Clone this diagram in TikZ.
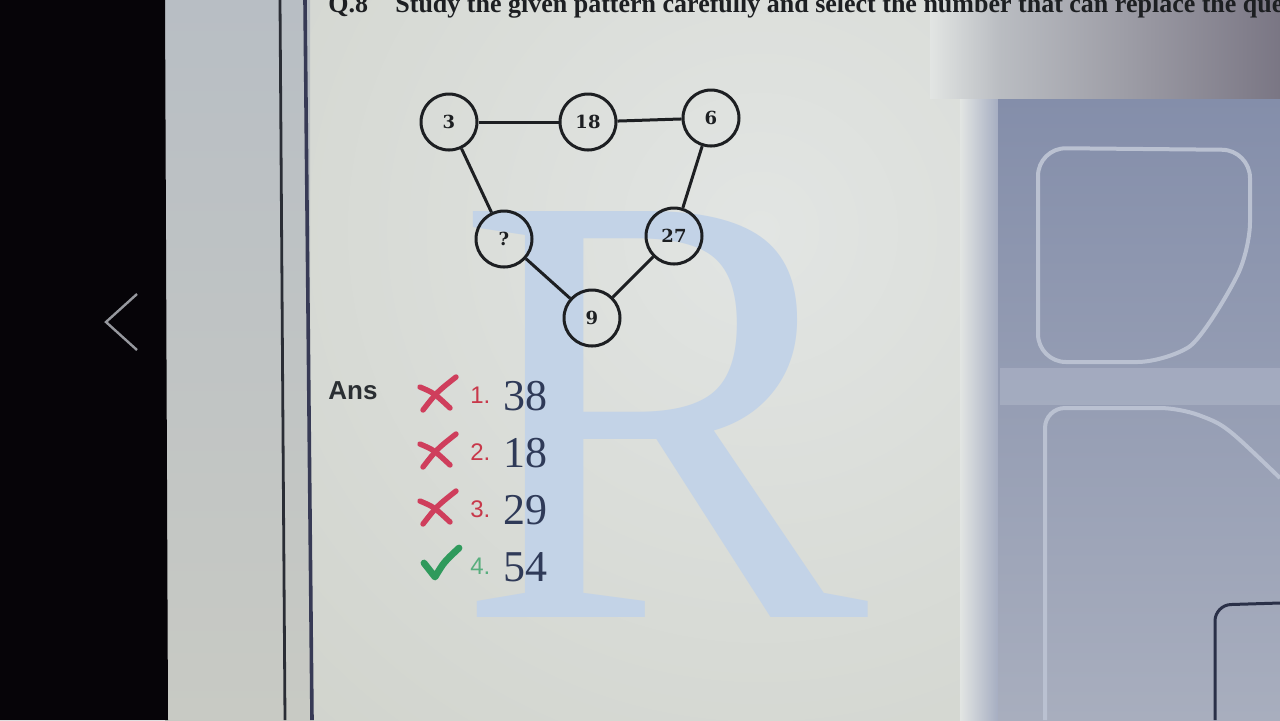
\documentclass[tikz,border=0pt]{standalone}
\usepackage{fontspec}
\setmainfont{Liberation Serif}
\setsansfont{Liberation Sans}
\newfontfamily\nodefont{DejaVu Serif}
\definecolor{ink}{HTML}{1D1F22}
\definecolor{bgmain}{HTML}{D2D5D1}
\definecolor{bginner}{RGB}{226,229,227}
\definecolor{bgouter}{RGB}{198,201,191}
\definecolor{lptop}{RGB}{184,190,196}
\definecolor{lpmid}{RGB}{212,214,214}
\definecolor{lpbot}{RGB}{200,202,196}
\definecolor{trlight}{RGB}{186,189,194}
\definecolor{trdark}{RGB}{122,118,132}
\definecolor{boxtop}{RGB}{132,142,170}
\definecolor{boxbot}{RGB}{168,174,190}
\definecolor{bezel}{RGB}{6,4,8}
\definecolor{chev}{RGB}{150,152,158}
\definecolor{frame1}{RGB}{42,45,53}
\definecolor{frame2}{RGB}{55,58,85}
\definecolor{brbox}{RGB}{42,48,72}
\definecolor{anscol}{RGB}{43,47,51}
\definecolor{rblue}{HTML}{C3D3E7}
\definecolor{redx}{HTML}{CF3E5C}
\definecolor{rednum}{HTML}{C8384A}
\definecolor{greenc}{HTML}{2F9A5C}
\definecolor{ansc}{HTML}{2F3A58}
\definecolor{boxc}{HTML}{A3ABC0}
\definecolor{boxline}{HTML}{BAC1D1}
\begin{document}
\begin{tikzpicture}[x=0.5pt,y=-0.5pt,
  num/.style={circle, draw=ink, line width=1.5pt, minimum size=28pt, inner sep=0pt,
    font=\nodefont\bfseries\fontsize{9}{9}\selectfont, text=ink},
  edge/.style={draw=ink, line width=1.5pt},
  optnum/.style={font=\sffamily\fontsize{12}{12}\selectfont, anchor=base west, inner sep=0pt},
  optval/.style={font=\fontsize{22}{22}\selectfont, text=ansc, anchor=base west, inner sep=0pt},
  xstroke/.style={draw=redx, line width=2.7pt, line cap=round},
  xmark/.pic={
    \draw[xstroke] (-17,-7) .. controls (-3,-1) .. (13,14);
    \draw[xstroke] (-14,16) .. controls (0,-2) .. (19,-17);
  }]
\useasboundingbox (0,0) rectangle (1280,720);
\clip (0,0) rectangle (1280,720);
% ---------- screen background ----------
\fill[bgmain] (0,0) rectangle (1280,720);
\begin{scope}
  \clip (310,0) rectangle (1000,720);
  \shade[inner color=bginner, outer color=bgouter] (760,230) circle (1100);
\end{scope}
\shade[top color=lptop, middle color=lpmid, bottom color=lpbot] (165,0) rectangle (310,720);
\shade[left color=bginner, right color=boxc] (960,98) rectangle (1000,720);
\shade[top color=boxtop, bottom color=boxbot] (998,98) rectangle (1280,720);
\shade[left color=trlight, right color=trdark] (998,0) rectangle (1280,98);
\shade[left color=bginner, right color=trlight] (930,0) rectangle (999,98);
% faint shapes in the right box
\fill[boxline, opacity=0.4] (1000,368) rectangle (1280,405);
\draw[boxline, line width=2pt, rounded corners=14pt]
  (1038,362) -- (1038,148) -- (1250,150) -- (1250,250)
  .. controls (1225,300) and (1200,340) .. (1165,362) -- cycle;
\draw[boxline, line width=2pt, rounded corners=10pt]
  (1045,720) -- (1045,408) -- (1180,408) .. controls (1225,425) .. (1280,478);
\draw[brbox, line width=1.5pt, rounded corners=8pt]
  (1215,720) -- (1215,605) -- (1280,603);
% black bezel and back chevron
\fill[bezel] (0,0) -- (165,0) -- (168,720) -- (0,720) -- cycle;
\draw[chev, line width=1.2pt] (137,294) -- (106,322) -- (137,350);
% vertical frame lines
\draw[frame1, line width=1.4pt] (280,0) -- (285,720);
\draw[frame2, line width=1.8pt] (305,0) -- (312,720);
% watermark R
\node[text=rblue, font=\fontsize{310}{310}\selectfont, anchor=base west, inner sep=0pt] (wm) at (455,617) {R};
% question line (cut by the top edge)
\node[font=\bfseries\fontsize{13}{13}\selectfont, text=ink, anchor=base west, inner sep=0pt] (qn) at (328,12) {Q.8};
\node[font=\bfseries\fontsize{13}{13}\selectfont, text=ink, anchor=base west, inner sep=0pt] (qt) at (395,12) {Study the given pattern carefully and select the number that can replace the question};
% ---------- pattern ----------
\node[num] (n3)  at (449,122) {3};
\node[num] (n18) at (588,122) {18};
\node[num] (n6)  at (711,118) {6};
\node[num] (nq)  at (504,239) {?};
\node[num] (n27) at (674,236) {27};
\node[num] (n9)  at (592,318) {9};
\draw[edge] (n3) -- (n18);
\draw[edge] (n18) -- (n6);
\draw[edge] (n3) -- (nq);
\draw[edge] (n6) -- (n27);
\draw[edge] (nq) -- (n9);
\draw[edge] (n27) -- (n9);
% ---------- answers ----------
\node[font=\sffamily\bfseries\fontsize{13}{13}\selectfont, text=anscol, anchor=base west, inner sep=0pt] (ans) at (328,399) {Ans};
\pic at (437,394) {xmark};
\pic at (437,451) {xmark};
\pic at (437,508) {xmark};
\draw[greenc, line width=3.4pt, line cap=round, line join=round] (424,563) -- (435,577) .. controls (444,562) .. (459,548);
\node[optnum, text=rednum] (o1) at (470,403) {1.};
\node[optnum, text=rednum] (o2) at (470,460) {2.};
\node[optnum, text=rednum] (o3) at (470,517) {3.};
\node[optnum, text=greenc!80!white] (o4) at (470,574) {4.};
\node[optval] (v1) at (503,410) {38};
\node[optval] (v2) at (503,467) {18};
\node[optval] (v3) at (503,524) {29};
\node[optval] (v4) at (503,581) {54};
\end{tikzpicture}
\end{document}
